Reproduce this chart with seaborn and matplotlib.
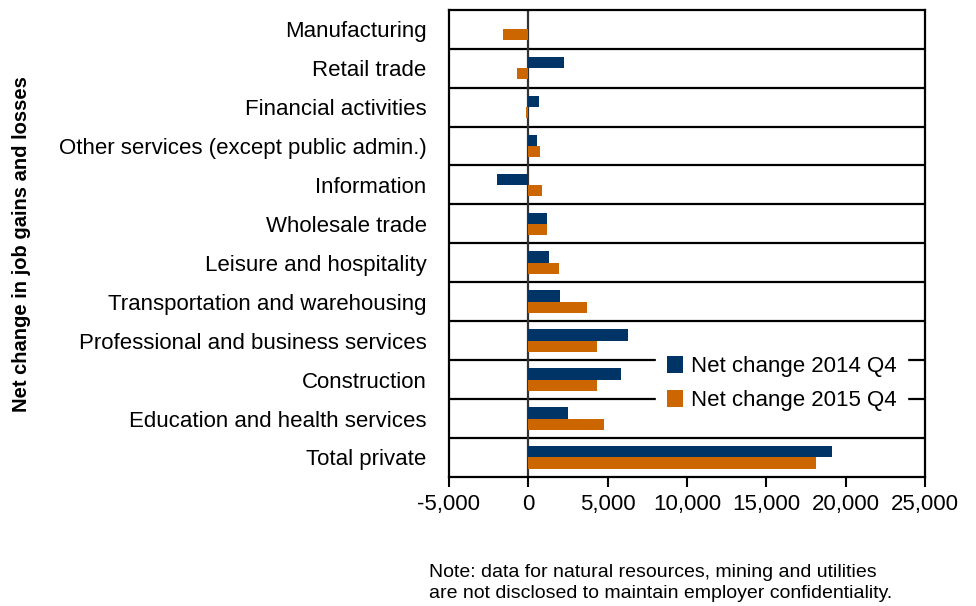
import pandas as pd
import matplotlib.pyplot as plt
import seaborn as sns
from matplotlib.ticker import FuncFormatter

categories = ["Manufacturing", "Retail trade", "Financial activities",
              "Other services (except public admin.)", "Information",
              "Wholesale trade", "Leisure and hospitality",
              "Transportation and warehousing",
              "Professional and business services", "Construction",
              "Education and health services", "Total private"]
change_2014 = [-40, 2260, 650, 550, -1970, 1200, 1280, 1970, 6270, 5830, 2470, 19140]
change_2015 = [-1620, -740, -130, 730, 840, 1150, 1950, 3690, 4320, 4340, 4760, 18130]
series = ["Net change 2014 Q4", "Net change 2015 Q4"]
xticks = [-5000, 0, 5000, 10000, 15000, 20000, 25000]

df = pd.DataFrame({
    "category": categories * 2,
    "value": change_2014 + change_2015,
    "series": [series[0]] * len(categories) + [series[1]] * len(categories),
})

sns.set_style("white")
plt.rcParams["font.family"] = ["Liberation Sans", "DejaVu Sans"]
plt.rcParams["text.color"] = "black"
plt.rcParams["xtick.color"] = "black"
plt.rcParams["ytick.color"] = "black"

fig = plt.figure(figsize=(9.76, 6.06), dpi=100)
ax = fig.add_axes([0.46, 0.213, 0.488, 0.771])

sns.barplot(data=df, x="value", y="category", hue="series", orient="h",
            palette=["#003366", "#CC6600"], saturation=1, width=0.58,
            order=categories, hue_order=series, ax=ax, zorder=3,
            linewidth=0)

# category separators and zero line
for i in range(len(categories) - 1):
    ax.axhline(i + 0.5, color="black", lw=1.6, zorder=1)
ax.axvline(0, color="#333333", lw=1.6, zorder=2)

ax.set_xlim(-5000, 25000)
ax.set_ylim(len(categories) - 0.5, -0.5)
ax.set_xticks(xticks)
ax.xaxis.set_major_formatter(FuncFormatter(lambda v, p: f"{int(v):,}"))
ax.tick_params(axis="x", direction="out", length=7, width=1.5, labelsize=16, pad=5, bottom=True)
ax.tick_params(axis="y", length=0, labelsize=16, pad=16)
ax.set_xlabel("")
ax.set_ylabel("")
for s in ax.spines.values():
    s.set_color("black")
    s.set_linewidth(1.6)

leg = ax.legend(loc="upper left", bbox_to_anchor=(0.412, 0.307), fontsize=16,
                frameon=True, facecolor="white", edgecolor="white", framealpha=1,
                fancybox=False, handlelength=0.7, handleheight=0.8,
                handletextpad=0.35, labelspacing=0.6, borderpad=0.5)
leg.set_zorder(5)

fig.text(0.022, 0.598, "Net change in job gains and losses", rotation=90,
         fontsize=14.5, fontweight="bold", ha="center", va="center")
fig.text(0.44, 0.006, "Note: data for natural resources, mining and utilities\n"
         "are not disclosed to maintain employer confidentiality.",
         fontsize=14, ha="left", va="bottom", linespacing=1.3)

fig.savefig("out.png", dpi=100)
